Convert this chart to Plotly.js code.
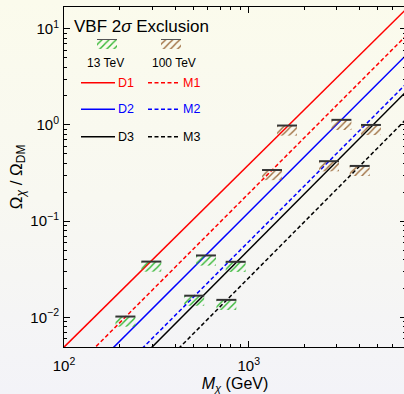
<!DOCTYPE html>
<html><head><meta charset="utf-8">
<script src="https://cdn.plot.ly/plotly-3.0.1.min.js"></script>
<style>
html,body{margin:0;padding:0;width:404px;height:394px;overflow:hidden;background:linear-gradient(180deg,#fbfbec 0%,#f8f8f1 50%,#f3f3f8 100%);}
#chart{width:406px;height:394px;}
</style></head><body><div id="chart"></div>
<script>
// ---- data ----
const lineMass = [100, 7000];               // GeV
const omegaD1 = [0.0049, 15.5];
const omegaM1 = [0.00231, 8.2];
const omegaD2 = [0.00149, 5.15];
const omegaM2 = [0.000728, 2.59];
const omegaD3 = [0.00059, 2.15];
const omegaM3 = [0.000299, 1.11];

const mass13 = [215, 297, 587, 507, 850, 757];        // 13 TeV exclusion
const omega13 = [0.0102, 0.038, 0.044, 0.0168, 0.0378, 0.0152];
const mass100 = [1613, 1337, 3177, 2721, 4590, 3990]; // 100 TeV exclusion
const omega100 = [0.986, 0.34, 1.13, 0.42, 1.0, 0.375];

const seriesNames = ['D1', 'M1', 'D2', 'M2', 'D3', 'M3'];
const energyLabels = ['13 TeV', '100 TeV'];
const chartTitle = 'VBF 2<i>σ</i> Exclusion';
const xTickVals = [100, 1000];
const xTickText = ['10<sup>2</sup>', '10<sup>3</sup>'];
const yTickVals = [0.01, 0.1, 1, 10];
const yTickText = ['10<sup>−2</sup>', '10<sup>−1</sup>', '10<sup>0</sup>', '10<sup>1</sup>'];

// ---- styles ----
const FONT = 'Liberation Sans, Arial, sans-serif';
const colors = {D1:'#ff0000', M1:'#ff0000', D2:'#0000ff', M2:'#0000ff', D3:'#000000', M3:'#000000'};
const dashes = {D1:'solid', M1:'4px,2.5px', D2:'solid', M2:'4px,2.5px', D3:'solid', M3:'4px,2.5px'};
const green = '#2fb52f', brown = '#9c6b3c';
const halfW = 0.054, hatchH = 0.105;   // box size in decades
const pattern = col => ({shape:'/', fgcolor:col, bgcolor:'rgba(0,0,0,0)', size:5, solidity:0.28});

const omegas = {D1:omegaD1, M1:omegaM1, D2:omegaD2, M2:omegaM2, D3:omegaD3, M3:omegaM3};
const traces = [];
seriesNames.forEach(n => traces.push({
  x: lineMass, y: omegas[n], mode:'lines', name:n,
  line:{color:colors[n], width:1.5, dash:dashes[n]}, hoverinfo:'skip'
}));

function boxes(ms, os, col) {
  ms.forEach((m, i) => {
    const o = os[i];
    const xl = m * Math.pow(10, -halfW), xr = m * Math.pow(10, halfW);
    const yb = o * Math.pow(10, -hatchH);
    traces.push({x:[xl,xr,xr,xl,xl], y:[o,o,yb,yb,o], mode:'lines', line:{width:0, color:col},
      fill:'toself', fillcolor:'rgba(0,0,0,0)', fillpattern:pattern(col), hoverinfo:'skip'});
    traces.push({x:[xl,xr], y:[o,o], mode:'lines', line:{color:'#333333', width:2}, hoverinfo:'skip'});
  });
}
boxes(mass13, omega13, green);
boxes(mass100, omega100, brown);

// ---- in-plot legend drawn on a pixel-like overlay axis pair ----
const rowY = [82.7, 109.3, 136.7];
const annotations = [];
annotations.push({xref:'x2', yref:'y2', x:72, y:26, text:chartTitle, showarrow:false, xanchor:'left', yanchor:'middle', font:{family:FONT, size:17, color:'#000'}});
[[107, green, energyLabels[0], 105.5], [171, brown, energyLabels[1], 173.5]].forEach(([cx, col, lab, lx]) => {
  traces.push({x:[cx-10,cx+10,cx+10,cx-10,cx-10], y:[39,39,49,49,39], mode:'lines', line:{width:0,color:col}, fill:'toself', fillcolor:'rgba(0,0,0,0)',
    fillpattern:pattern(col), xaxis:'x2', yaxis:'y2', hoverinfo:'skip'});
  traces.push({x:[cx-10,cx+10], y:[39.5,39.5], mode:'lines', line:{color:'#555', width:1}, xaxis:'x2', yaxis:'y2', hoverinfo:'skip'});
  annotations.push({xref:'x2', yref:'y2', x:lx, y:63, text:lab, showarrow:false, xanchor:'center', yanchor:'middle', font:{family:FONT, size:12, color:'#000'}});
});
seriesNames.forEach((n, i) => {
  const row = Math.floor(i/2), col = i % 2;
  const x0 = col ? 148 : 81, x1 = col ? 180 : 115;
  traces.push({x:[x0,x1], y:[rowY[row],rowY[row]], mode:'lines', line:{color:colors[n], width:1.5, dash:dashes[n]}, xaxis:'x2', yaxis:'y2', hoverinfo:'skip'});
  annotations.push({xref:'x2', yref:'y2', x:x1+0.5, y:rowY[row], text:n, showarrow:false, xanchor:'left', yanchor:'middle', font:{family:FONT, size:12.5, color:colors[n]}});
});

const axisCommon = {showgrid:false, zeroline:false, showline:true, linecolor:'#000', linewidth:1, mirror:'ticks',
  ticks:'inside', ticklen:6, tickwidth:1, tickcolor:'#000', tickmode:'array',
  tickfont:{family:FONT, size:15, color:'#000'},
  minor:{ticks:'inside', ticklen:3, tickwidth:1, tickcolor:'#000', dtick:'D1', showgrid:false}};

const layout = {
  width:406, height:394, margin:{l:64, r:0, t:7, b:47},
  paper_bgcolor:'rgba(0,0,0,0)', plot_bgcolor:'rgba(0,0,0,0)', showlegend:false,
  font:{family:FONT, color:'#000'},
  xaxis: Object.assign({}, axisCommon, {type:'log', range:[2, 3.8516], tickvals:xTickVals, ticktext:xTickText, ticklabelstandoff:5,
    title:{text:'<i>M</i><sub><i>χ</i></sub> (GeV)', font:{family:FONT, size:16, color:'#000'}, standoff:4}}),
  yaxis: Object.assign({}, axisCommon, {type:'log', range:[-2.308, 1.226], tickvals:yTickVals, ticktext:yTickText, ticklabelstandoff:1,
    title:{text:'Ω<sub><i>χ</i></sub> / Ω<sub>DM</sub>', font:{family:FONT, size:17, color:'#000'}, standoff:3}}),
  xaxis2:{overlaying:'x', range:[64, 406], visible:false, fixedrange:true},
  yaxis2:{overlaying:'y', range:[347, 7], visible:false, fixedrange:true},
  annotations: annotations
};
Plotly.newPlot('chart', traces, layout, {staticPlot:true, displayModeBar:false});
</script></body></html>
